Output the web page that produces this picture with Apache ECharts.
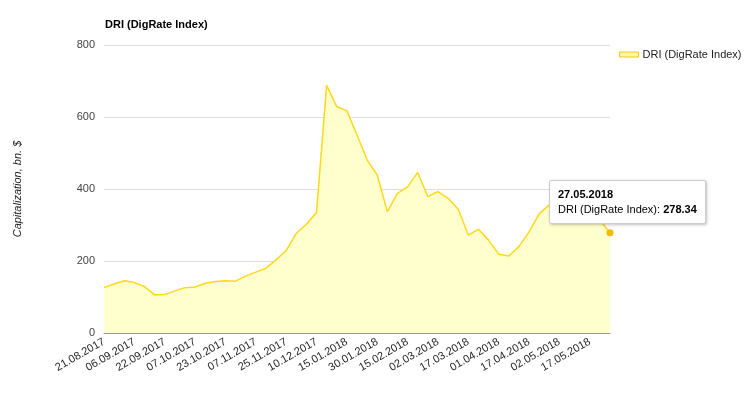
<!DOCTYPE html>
<html>
<head>
<meta charset="utf-8">
<script src="https://cdn.jsdelivr.net/npm/echarts@6/dist/echarts.min.js"></script>
<style>
html,body{margin:0;padding:0;background:#fff;}
#chart{width:744px;height:394px;}
</style>
</head>
<body>
<div id="chart"></div>
<script>
var categories = [
  '21.08.2017','26.08.2017','01.09.2017','06.09.2017','11.09.2017','16.09.2017',
  '22.09.2017','27.09.2017','02.10.2017','07.10.2017','12.10.2017','17.10.2017',
  '23.10.2017','28.10.2017','02.11.2017','07.11.2017','13.11.2017','19.11.2017',
  '25.11.2017','30.11.2017','05.12.2017','10.12.2017','05.01.2018','10.01.2018',
  '15.01.2018','20.01.2018','25.01.2018','30.01.2018','04.02.2018','10.02.2018',
  '15.02.2018','20.02.2018','25.02.2018','02.03.2018','07.03.2018','12.03.2018',
  '17.03.2018','22.03.2018','27.03.2018','01.04.2018','06.04.2018','11.04.2018',
  '17.04.2018','22.04.2018','27.04.2018','02.05.2018','07.05.2018','12.05.2018',
  '17.05.2018','22.05.2018','27.05.2018'
];
var driValues = [
  126,136,145,140,129,106,
  107,117,126,128,138,143,
  145,144,158,169,180,203,
  229,277,302,335,688,629,
  617,550,481,439,337,388,
  406,446,379,393,374,344,
  272,288,258,219,214,240,
  281,331,356,350,342,338,
  335,314,278.34
];
var yTicks = [0, 200, 400, 600, 800];
var seriesName = 'DRI (DigRate Index)';
var highlightIndex = driValues.length - 1;

var FONT = 'Arial, "Liberation Sans", sans-serif';

var chart = echarts.init(document.getElementById('chart'), null, { renderer: 'canvas' });
chart.setOption({
  animation: false,
  backgroundColor: '#fff',
  title: {
    text: seriesName,
    left: 100,
    top: 14,
    textStyle: { fontFamily: FONT, fontSize: 11, fontWeight: 'bold', color: '#000' }
  },
  legend: {
    data: [seriesName],
    left: 614,
    top: 44,
    icon: 'rect',
    itemWidth: 19,
    itemHeight: 5,
    itemGap: 4,
    itemStyle: { color: '#FFF6A8', borderColor: '#F5C518', borderWidth: 1 },
    textStyle: { fontFamily: FONT, fontSize: 11, color: '#222', padding: [0, 0, 0, -1] }
  },
  grid: { left: 104, right: 134, top: 45, bottom: 61, containLabel: false },
  tooltip: {
    trigger: 'axis',
    axisPointer: { type: 'none' },
    alwaysShowContent: true,
    backgroundColor: '#fff',
    borderColor: '#ccc',
    borderWidth: 1,
    padding: [6, 8],
    extraCssText: 'box-shadow: 1px 1px 3px rgba(0,0,0,0.25); border-radius:2px;',
    textStyle: { fontFamily: FONT, fontSize: 11, color: '#000' },
    position: function (point) { return [point[0] - 61, point[1] - 53]; },
    formatter: function (ps) {
      var p = Array.isArray(ps) ? ps[0] : ps;
      return '<div style="line-height:15px;font-family:Arial,\'Liberation Sans\',sans-serif;font-size:11px;color:#000;">' +
        '<b>' + p.name + '</b><br>' + p.seriesName + ': <b>' + p.value + '</b></div>';
    }
  },
  xAxis: {
    type: 'category',
    data: categories,
    boundaryGap: false,
    axisLine: { show: true, lineStyle: { color: '#999', width: 1 } },
    axisTick: { show: false },
    axisLabel: {
      interval: 2,
      rotate: 30,
      margin: 8,
      fontFamily: FONT,
      fontSize: 11,
      color: '#222'
    },
    splitLine: { show: false }
  },
  yAxis: {
    type: 'value',
    min: yTicks[0],
    max: yTicks[yTicks.length - 1],
    interval: 200,
    name: 'Capitalization, bn. $',
    nameLocation: 'middle',
    nameGap: 81,
    nameRotate: 90,
    nameTextStyle: { fontFamily: FONT, fontSize: 11, fontStyle: 'italic', color: '#222' },
    axisLine: { show: false },
    axisTick: { show: false },
    axisLabel: { fontFamily: FONT, fontSize: 11, color: '#444', margin: 9 },
    splitLine: { lineStyle: { color: '#ddd', width: 1 } }
  },
  series: [{
    name: seriesName,
    type: 'line',
    data: driValues,
    symbol: 'circle',
    showSymbol: true,
    symbolSize: function (v, params) { return params.dataIndex === highlightIndex ? 7 : 0; },
    lineStyle: { color: '#F5C518', width: 1.5 },
    itemStyle: { color: '#F5B900', borderWidth: 0 },
    areaStyle: { color: '#FFFABB', opacity: 1 },
    emphasis: { scale: false, focus: 'none' }
  }]
});
chart.dispatchAction({ type: 'showTip', seriesIndex: 0, dataIndex: highlightIndex });
setTimeout(function () {
  chart.dispatchAction({ type: 'showTip', seriesIndex: 0, dataIndex: highlightIndex });
}, 50);
</script>
</body>
</html>
